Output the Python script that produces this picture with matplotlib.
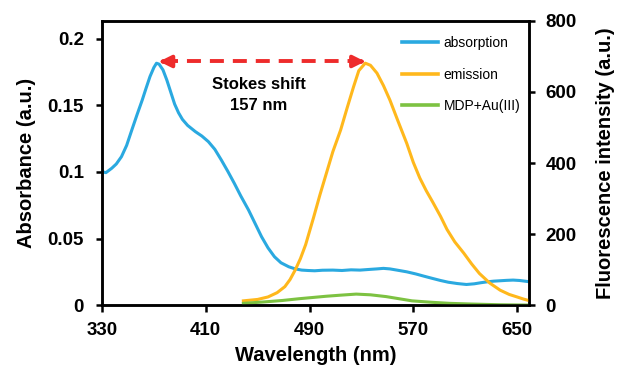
import matplotlib
matplotlib.use('Agg')
import matplotlib.pyplot as plt

plt.rcParams['font.family'] = ['Liberation Sans', 'DejaVu Sans']

# absorption spectrum (left axis)
abs_wl = [330, 333, 337.5, 341, 345, 349, 353, 357, 361, 364, 367, 370, 372, 374, 377, 380, 383,
          386, 389, 392, 396, 402, 407, 412, 417, 422, 427, 432, 437, 443, 448, 453, 458, 463, 468,
          474, 479, 484, 489, 494, 500, 508, 515, 522, 529, 536, 542, 547, 552, 558, 565, 572,
          578, 585, 591, 597, 604, 611, 617, 622, 627, 632, 637, 642, 647, 652, 656, 660]
abs_val = [0.1002, 0.0995, 0.1028, 0.1060, 0.1115, 0.1200, 0.1316, 0.1430, 0.1540, 0.1630, 0.1717,
           0.1785, 0.1817, 0.1810, 0.1767, 0.1690, 0.1600, 0.1510, 0.1445, 0.1395, 0.1350, 0.1303,
           0.1270, 0.1228, 0.1170, 0.1090, 0.1005, 0.0915, 0.0820, 0.0714, 0.0614, 0.0514, 0.0430,
           0.0363, 0.0318, 0.0288, 0.0272, 0.0263, 0.0260, 0.0258, 0.0262, 0.0263, 0.0260, 0.0265,
           0.0263, 0.0268, 0.0272, 0.0276, 0.0272, 0.0262, 0.0250, 0.0234, 0.0218, 0.0200, 0.0185,
           0.0172, 0.0162, 0.0155, 0.0160, 0.0168, 0.0175, 0.0180, 0.0183, 0.0186, 0.0188, 0.0185,
           0.0180, 0.0175]

# emission spectrum (right axis)
em_wl = [439, 450, 458, 465, 471, 475, 479, 483, 487, 493, 498, 503, 508, 514, 519, 524, 528, 533,
         537, 542, 547, 552, 558, 565, 570, 575, 580, 585, 591, 596, 602, 609, 615, 621, 629, 637,
         644, 650, 655, 660]
em_val = [12, 16, 23, 35, 52, 72, 99, 131, 170, 245, 310, 371, 432, 493, 555, 615, 660, 681,
          675, 653, 618, 577, 520, 455, 402, 358, 322, 290, 250, 213, 178, 146, 116, 89, 62, 42,
          30, 23, 17, 12]

# MDP+Au(III) control (right axis)
ctrl_wl = [439, 455, 469, 482, 494, 503, 514, 526, 537, 549, 559, 569, 584, 598, 615, 637, 660]
ctrl_val = [5, 9, 13, 18, 22, 25, 28, 31, 29, 24, 18, 12, 8, 5, 3, 1, 0]

abs_peak = 372
em_peak = 535
arrow_y = 0.183

blue = '#2aa9e0'
orange = '#ffb81c'
green = '#7dc242'

fig = plt.figure(figsize=(6.22, 3.73), dpi=100)
ax1 = fig.add_axes([0.164, 0.182, 0.686, 0.762])
ax2 = ax1.twinx()

l1, = ax1.plot(abs_wl, abs_val, color=blue, lw=2.2, label='absorption')
l2, = ax2.plot(em_wl, em_val, color=orange, lw=2.2, label='emission')
l3, = ax2.plot(ctrl_wl, ctrl_val, color=green, lw=2.2, label='MDP+Au(III)')

ax1.set_xlim(330, 659)
ax1.set_ylim(0, 0.2135)
ax2.set_ylim(0, 800)
ax1.set_xticks([330, 410, 490, 570, 650])
ax1.set_yticks([0, 0.05, 0.1, 0.15, 0.2])
ax1.set_yticklabels(['0', '0.05', '0.1', '0.15', '0.2'])
ax2.set_yticks([0, 200, 400, 600, 800])

for ax in (ax1, ax2):
    for s in ax.spines.values():
        s.set_linewidth(1.8)
    for lab in ax.get_xticklabels() + ax.get_yticklabels():
        lab.set_fontweight('bold')
ax1.tick_params(axis='y', direction='out', length=4, width=1.8, labelsize=13.5, pad=9)
ax1.tick_params(axis='x', direction='out', length=5, width=1.8, labelsize=13.5, pad=7)
ax2.tick_params(axis='y', direction='out', length=4, width=1.8, labelsize=13.5, pad=8)

ax1.set_xlabel('Wavelength (nm)', fontsize=14.5, fontweight='bold', labelpad=5)
ax1.set_ylabel('Absorbance (a.u.)', fontsize=14.5, fontweight='bold', labelpad=8)
ax2.set_ylabel('Fluorescence intensity (a.u.)', fontsize=14.5, fontweight='bold', labelpad=14)

# Stokes shift arrow
red = '#ee2b2b'
ax1.plot([abs_peak + 6, em_peak - 6], [arrow_y, arrow_y], color=red, lw=2.8, dashes=(3.6, 2.3))
ax1.annotate('', xy=(abs_peak, arrow_y), xytext=(abs_peak + 8, arrow_y),
             arrowprops=dict(arrowstyle='-|>,head_length=0.7,head_width=0.35', color=red, lw=2.8))
ax1.annotate('', xy=(em_peak, arrow_y), xytext=(em_peak - 8, arrow_y),
             arrowprops=dict(arrowstyle='-|>,head_length=0.7,head_width=0.35', color=red, lw=2.8))
ax1.text(415, 0.166, 'Stokes shift', fontsize=12, fontweight='bold', va='center', ha='left')
ax1.text(428.5, 0.150, '157 nm', fontsize=12, fontweight='bold', va='center', ha='left')

leg = ax2.legend(handles=[l1, l2, l3], loc='upper right', bbox_to_anchor=(1.0, 0.975),
                 frameon=False, fontsize=10, handlelength=2.6, handletextpad=0.4,
                 labelspacing=1.25, borderaxespad=0.2)
for h in leg.legend_handles:
    h.set_linewidth(2.6)

fig.savefig('out.png', dpi=100)
